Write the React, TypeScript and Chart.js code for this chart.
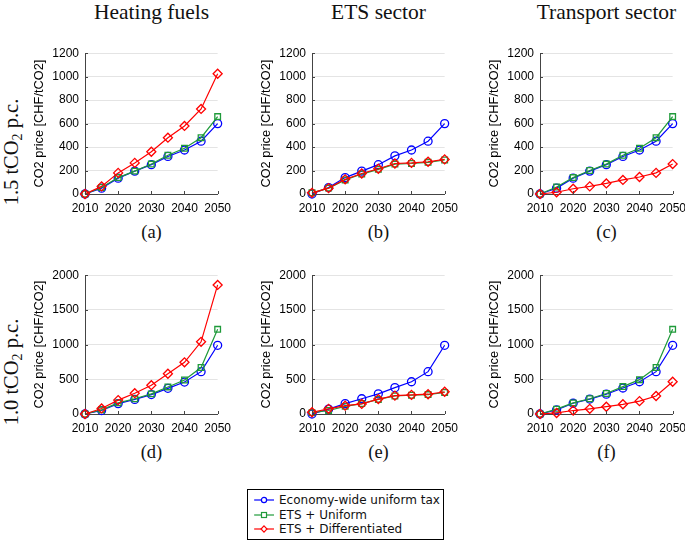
import React, { useEffect, useRef } from "react";
import { Chart, registerables } from "chart.js";

Chart.register(...registerables);

// ---------- data ----------
const years = [2010, 2015, 2020, 2025, 2030, 2035, 2040, 2045, 2050];
const seriesNames = ["Economy-wide uniform tax", "ETS + Uniform", "ETS + Differentiated"];
const columnTitles = ["Heating fuels", "ETS sector", "Transport sector"];
const panelLabels = ["(a)", "(b)", "(c)", "(d)", "(e)", "(f)"];
const yAxisTitle = "CO2 price [CHF/tCO2]";
const xTickStep = 10;
const row1YMax = 1200;
const row1YStep = 200;
const row2YMax = 2000;
const row2YStep = 500;

// 1.5 tCO2 p.c.
const heat15Uniform = [0, 50, 135, 195, 250, 320, 375, 450, 600];
const heat15EtsUniform = [0, 55, 140, 195, 255, 330, 390, 480, 660];
const heat15EtsDiff = [0, 65, 180, 265, 360, 480, 580, 725, 1025];

const ets15Uniform = [0, 55, 140, 195, 250, 325, 375, 450, 600];
const ets15EtsUniform = [10, 50, 120, 170, 210, 255, 260, 270, 290];
const ets15EtsDiff = [10, 50, 125, 175, 215, 260, 265, 275, 295];

const trans15Uniform = [0, 50, 135, 195, 250, 320, 375, 450, 600];
const trans15EtsUniform = [0, 60, 140, 200, 255, 330, 390, 480, 660];
const trans15EtsDiff = [0, 15, 45, 65, 90, 120, 145, 180, 255];

// 1.0 tCO2 p.c.
const heat10Uniform = [0, 50, 150, 210, 280, 370, 460, 610, 990];
const heat10EtsUniform = [0, 60, 160, 220, 290, 390, 490, 670, 1220];
const heat10EtsDiff = [0, 80, 200, 300, 415, 580, 745, 1040, 1860];

const ets10Uniform = [0, 70, 150, 220, 290, 380, 465, 610, 990];
const ets10EtsUniform = [20, 50, 110, 150, 210, 260, 270, 280, 310];
const ets10EtsDiff = [25, 75, 120, 145, 215, 265, 275, 285, 320];

const trans10Uniform = [0, 60, 155, 215, 285, 375, 465, 610, 990];
const trans10EtsUniform = [0, 70, 160, 220, 295, 395, 495, 670, 1220];
const trans10EtsDiff = [0, 15, 50, 75, 105, 140, 185, 260, 465];

// ---------- styles ----------
const COLORS = ["#0000ff", "#1f9a3a", "#ff0000"];
const POINT_STYLES = ["circle", "rect", "rectRot"];
const POINT_RADII = [4, 4, 4.5];
const SANS = "'Liberation Sans', Arial, sans-serif";
const SERIF = "'Liberation Serif', 'Times New Roman', serif";

const Y_AXIS_W = 57;
const PAD_TOP = 13;
const PAD_RIGHT = 20;
const PAD_BOTTOM = 2;
const X_AXIS_H = 22;

const innerTicks = {
  id: "innerTicks",
  afterDraw(chart: any) {
    const { ctx, chartArea, scales } = chart;
    ctx.save();
    ctx.strokeStyle = "#444";
    ctx.lineWidth = 1;
    ctx.beginPath();
    scales.x.ticks.forEach((t: any) => {
      const px = Math.round(scales.x.getPixelForValue(t.value)) + 0.5;
      ctx.moveTo(px, chartArea.bottom);
      ctx.lineTo(px, chartArea.bottom - 3);
    });
    scales.y.ticks.forEach((t: any) => {
      const py = Math.round(scales.y.getPixelForValue(t.value)) + 0.5;
      ctx.moveTo(chartArea.left, py);
      ctx.lineTo(chartArea.left + 3, py);
    });
    ctx.stroke();
    ctx.restore();
  },
};

type PanelProps = {
  areaLeft: number;
  areaTop: number;
  areaBottom: number;
  areaWidth: number;
  yMax: number;
  yStep: number;
  series: number[][];
};

function Panel({ areaLeft, areaTop, areaBottom, areaWidth, yMax, yStep, series }: PanelProps) {
  const ref = useRef<HTMLCanvasElement | null>(null);
  const width = Y_AXIS_W + areaWidth + PAD_RIGHT;
  const height = PAD_TOP + (areaBottom - areaTop) + X_AXIS_H + PAD_BOTTOM;
  useEffect(() => {
    if (!ref.current) return;
    const font = { family: SANS, size: 12 };
    const chart = new Chart(ref.current, {
      type: "line",
      data: {
        datasets: series.map((vals, i) => ({
          label: seriesNames[i],
          data: years.map((x, j) => ({ x, y: vals[j] })),
          borderColor: COLORS[i],
          backgroundColor: "rgba(0,0,0,0)",
          pointBackgroundColor: "rgba(0,0,0,0)",
          pointBorderColor: COLORS[i],
          pointStyle: POINT_STYLES[i] as any,
          pointRadius: POINT_RADII[i],
          pointBorderWidth: 1.3,
          borderWidth: 1.2,
          tension: 0,
          clip: false as any,
          order: 2 - i,
        })),
      },
      options: {
        animation: false,
        responsive: false,
        devicePixelRatio: 1,
        layout: { padding: { top: PAD_TOP, right: PAD_RIGHT, bottom: PAD_BOTTOM, left: 0 } },
        plugins: { legend: { display: false }, tooltip: { enabled: false } },
        scales: {
          x: {
            type: "linear",
            min: years[0],
            max: years[years.length - 1],
            ticks: {
              stepSize: xTickStep,
              callback: (v: any) => String(v),
              font,
              color: "#000",
              padding: 7,
              maxRotation: 0,
            },
            grid: { display: true, drawOnChartArea: false, drawTicks: false, color: "#444" },
            border: { display: true, color: "#444", width: 1 },
            afterFit: (s: any) => {
              s.height = X_AXIS_H;
            },
          },
          y: {
            min: 0,
            max: yMax,
            ticks: {
              stepSize: yStep,
              callback: (v: any) => String(v),
              font,
              color: "#000",
              padding: 6,
            },
            grid: { color: "#e4e4e4", drawTicks: false },
            border: { display: true, color: "#444", width: 1 },
            title: {
              display: true,
              text: yAxisTitle,
              font: { family: SANS, size: 12.8 },
              color: "#000",
              padding: { top: 4, bottom: 4 },
            },
            afterFit: (s: any) => {
              s.width = Y_AXIS_W;
            },
          },
        },
      },
      plugins: [innerTicks],
    });
    return () => chart.destroy();
  }, []);
  return (
    <canvas
      ref={ref}
      width={width}
      height={height}
      style={{
        position: "absolute",
        left: areaLeft - Y_AXIS_W,
        top: areaTop - PAD_TOP,
        width,
        height,
      }}
    />
  );
}

function LegendMarker({ i }: { i: number }) {
  const c = COLORS[i];
  return (
    <svg width={22} height={10} style={{ display: "block" }}>
      <line x1={1} y1={5} x2={21} y2={5} stroke={c} strokeWidth={1.2} />
      {i === 0 && <circle cx={11} cy={5} r={2.6} fill="white" stroke={c} strokeWidth={1.2} />}
      {i === 1 && <rect x={8.5} y={2.5} width={5} height={5} fill="white" stroke={c} strokeWidth={1.2} />}
      {i === 2 && <polygon points="11,1.8 14,5 11,8.2 8,5" fill="white" stroke={c} strokeWidth={1.2} />}
    </svg>
  );
}

export default function App() {
  const colLefts = [85, 312, 540];
  const areaWidth = 133;
  const rows = [
    { top: 53, bottom: 194, yMax: row1YMax, yStep: row1YStep, label: "1.5", labelY: 152, panelY: 232 },
    { top: 275, bottom: 414, yMax: row2YMax, yStep: row2YStep, label: "1.0", labelY: 372, panelY: 452 },
  ];
  const data = [
    [
      [heat15Uniform, heat15EtsUniform, heat15EtsDiff],
      [ets15Uniform, ets15EtsUniform, ets15EtsDiff],
      [trans15Uniform, trans15EtsUniform, trans15EtsDiff],
    ],
    [
      [heat10Uniform, heat10EtsUniform, heat10EtsDiff],
      [ets10Uniform, ets10EtsUniform, ets10EtsDiff],
      [trans10Uniform, trans10EtsUniform, trans10EtsDiff],
    ],
  ];
  return (
    <div
      style={{
        position: "absolute",
        left: 0,
        top: 0,
        width: 685,
        height: 541,
        background: "white",
        overflow: "hidden",
      }}
    >
      {columnTitles.map((t, c) => (
        <div
          key={t}
          style={{
            position: "absolute",
            left: colLefts[c] + areaWidth / 2 - 100,
            top: 0,
            width: 200,
            textAlign: "center",
            fontFamily: SERIF,
            fontSize: 21.5,
            lineHeight: "24px",
            color: "#111",
            whiteSpace: "nowrap",
          }}
        >
          {t}
        </div>
      ))}
      {rows.map((r, ri) => (
        <div
          key={"rl" + ri}
          style={{
            position: "absolute",
            left: 11,
            top: r.labelY,
            transform: "translate(-50%, -50%) rotate(-90deg)",
            fontFamily: SERIF,
            fontSize: 20.5,
            lineHeight: "24px",
            color: "#111",
            whiteSpace: "nowrap",
          }}
        >
          {r.label} tCO<sub style={{ fontSize: 14, verticalAlign: "-4px", lineHeight: 0 }}>2</sub> p.c.
        </div>
      ))}
      {rows.map((r, ri) =>
        colLefts.map((l, c) => (
          <React.Fragment key={"p" + ri + c}>
            <Panel
              areaLeft={l}
              areaTop={r.top}
              areaBottom={r.bottom}
              areaWidth={areaWidth}
              yMax={r.yMax}
              yStep={r.yStep}
              series={data[ri][c]}
            />
            <div
              style={{
                position: "absolute",
                left: l + areaWidth / 2 - 30,
                top: r.panelY - 11,
                width: 60,
                textAlign: "center",
                fontFamily: SERIF,
                fontSize: 18.5,
                lineHeight: "22px",
                color: "#111",
              }}
            >
              {panelLabels[ri * 3 + c]}
            </div>
          </React.Fragment>
        ))
      )}
      <div
        style={{
          position: "absolute",
          left: 247,
          top: 489,
          width: 197,
          height: 51,
          boxSizing: "border-box",
          border: "1px solid #000",
          paddingTop: 3,
          paddingLeft: 5,
        }}
      >
        {seriesNames.map((n, i) => (
          <div
            key={n}
            style={{
              display: "flex",
              alignItems: "center",
              height: 14.5,
              fontFamily: "'DejaVu Sans', sans-serif",
              fontSize: 12,
              color: "#111",
              whiteSpace: "nowrap",
            }}
          >
            <LegendMarker i={i} />
            <span style={{ marginLeft: 4 }}>{n}</span>
          </div>
        ))}
      </div>
    </div>
  );
}
